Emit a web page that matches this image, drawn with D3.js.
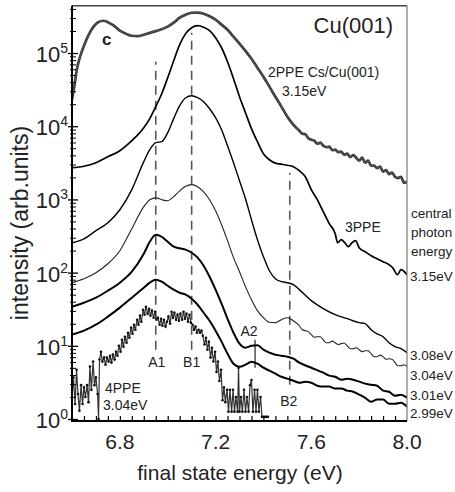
<!DOCTYPE html>
<html><head><meta charset="utf-8">
<script src="https://cdn.jsdelivr.net/npm/d3@7"></script>
<style>body{margin:0;background:#fff}svg{display:block;font-family:"Liberation Sans",Arial,sans-serif}</style>
</head><body><svg id="chart" width="455" height="492"></svg>
<script>
// ---------- data ----------
const xTickValues = [6.8, 7.2, 7.6, 8.0];
const xTickLabels = ["6.8", "7.2", "7.6", "8.0"];
const yTickExponents = [0, 1, 2, 3, 4, 5];

// 2PPE Cs/Cu(001) 3.15 eV  (curve "c")
const energyCs = [6.6,6.61,6.62,6.635,6.65,6.67,6.69,6.71,6.73,6.75,6.775,6.8,6.825,6.85,6.875,6.9,6.95,7.0,7.025,7.05,7.075,7.1,7.125,7.15,7.175,7.2,7.225,7.25,7.275,7.3,7.325,7.35,7.375,7.4,7.425,7.45,7.475,7.5,7.525,7.55,7.5625,7.575,7.5875,7.6,7.6125,7.625,7.6375,7.65,7.6625,7.675,7.6875,7.7,7.7125,7.725,7.7375,7.75,7.7625,7.775,7.7875,7.8,7.8125,7.825,7.8375,7.85,7.8625,7.875,7.8875,7.9,7.9125,7.925,7.9375,7.95,7.9625,7.975,7.9875,8.0];
const valuesCs = [2.30e4,3.57e4,5.92e4,9.18e4,1.26e5,1.78e5,2.29e5,2.64e5,2.76e5,2.64e5,2.36e5,2.02e5,1.84e5,1.72e5,1.70e5,1.78e5,1.99e5,2.29e5,2.60e5,3.04e5,3.34e5,3.55e5,3.57e5,3.44e5,3.18e5,2.85e5,2.44e5,2.08e5,1.67e5,1.34e5,1.07e5,8.36e4,6.30e4,4.74e4,3.47e4,2.53e4,1.85e4,1.35e4,1.05e4,8.68e3,7.90e3,7.78e3,6.86e3,6.55e3,6.34e3,5.77e3,5.96e3,5.42e3,5.17e3,5.25e3,4.70e3,4.78e3,4.42e3,4.49e3,4.08e3,4.21e3,3.78e3,4.02e3,3.72e3,3.38e3,3.72e3,3.17e3,3.38e3,2.89e3,2.89e3,2.67e3,2.80e3,2.39e3,2.51e3,2.21e3,2.32e3,2.04e3,1.95e3,2.04e3,1.69e3,1.75e3];

// 3PPE, 3.15 eV
const energy315 = [6.6,6.65,6.7,6.75,6.8,6.85,6.9,6.925,6.95,6.975,7.0,7.025,7.05,7.075,7.1,7.125,7.15,7.175,7.2,7.225,7.25,7.275,7.3,7.325,7.35,7.375,7.4,7.425,7.45,7.475,7.5,7.525,7.55,7.575,7.6,7.625,7.65,7.675,7.7,7.71,7.725,7.74,7.755,7.77,7.785,7.8,7.825,7.85,7.875,7.9,7.925,7.94,7.96,7.975,8.0];
const values315 = [2.71e3,2.84e3,3.17e3,3.83e3,4.63e3,6.34e3,9.55e3,1.27e4,1.85e4,2.78e4,4.60e4,7.85e4,1.30e5,1.84e5,2.22e5,2.36e5,2.25e5,2.02e5,1.62e5,1.18e5,7.60e4,4.46e4,2.53e4,1.53e4,9.25e3,6.14e3,4.21e3,3.48e3,3.13e3,3.03e3,2.93e3,2.80e3,2.47e3,2.04e3,1.36e3,991,679,467,340,256,282,256,226,256,273,219,193,170,155,141,128,117,93.6,110,93.6];

// 3PPE, 3.08 eV
const energy308 = [6.6,6.65,6.7,6.75,6.8,6.85,6.9,6.925,6.95,6.975,7.0,7.025,7.05,7.075,7.1,7.125,7.15,7.175,7.2,7.225,7.25,7.275,7.3,7.325,7.35,7.375,7.4,7.425,7.45,7.475,7.5,7.525,7.55,7.6,7.65,7.7,7.75,7.8,7.825,7.85,7.875,7.9,7.925,7.95,7.975,8.0];
const values308 = [256,290,374,481,723,1.36e3,3.28e3,4.78e3,5.96e3,6.15e3,8.17e3,1.27e4,1.91e4,2.45e4,2.61e4,2.45e4,2.16e4,1.73e4,1.31e4,8.95e3,5.42e3,3.17e3,1.80e3,1.02e3,527,281,165,106,82.6,75.2,72.8,68.4,58.5,41.4,32.2,26.6,23.5,20.7,20.1,16.6,14.6,13.3,11.0,9.72,9.14,8.05];

// 3PPE, 3.04 eV
const energy304 = [6.6,6.65,6.7,6.75,6.8,6.85,6.9,6.925,6.95,6.975,7.0,7.025,7.05,7.075,7.1,7.125,7.15,7.175,7.2,7.225,7.25,7.275,7.3,7.325,7.35,7.375,7.4,7.425,7.45,7.475,7.5,7.525,7.55,7.5625,7.575,7.5875,7.6,7.6125,7.625,7.6375,7.65,7.6625,7.675,7.6875,7.7,7.7125,7.725,7.7375,7.75,7.7625,7.775,7.7875,7.8,7.8125,7.825,7.8375,7.85,7.8625,7.875,7.8875,7.9,7.9125,7.925,7.9375,7.95,7.9625,7.975,7.9875,8.0];
const values304 = [72.8,82.6,99.8,132,199,398,796,991,1.05e3,991,960,1.09e3,1.31e3,1.51e3,1.59e3,1.49e3,1.27e3,991,701,451,273,160,103,64.3,42.7,30.2,24.2,21.0,20.7,22.7,24.2,22.0,18.8,16.6,16.1,15.6,14.2,13.1,13.3,13.3,12.1,11.0,11.0,11.6,11.0,10.4,10.7,10.9,10.0,9.12,9.12,9.42,8.85,8.30,8.57,8.57,7.80,7.10,7.10,7.45,7.10,6.56,6.67,6.56,5.88,5.35,5.35,5.52,5.18];

// 3PPE, 3.01 eV
const energy301 = [6.6,6.65,6.7,6.75,6.8,6.85,6.9,6.925,6.95,6.975,7.0,7.025,7.05,7.075,7.1,7.125,7.15,7.175,7.2,7.225,7.25,7.275,7.3,7.325,7.35,7.375,7.4,7.425,7.45,7.475,7.5,7.525,7.55,7.6,7.65,7.675,7.7,7.725,7.75,7.775,7.8,7.825,7.85,7.875,7.9,7.925,7.95,7.975,8.0];
const values301 = [34.2,38.8,45.4,56.6,72.8,103,181,264,330,309,264,226,215,206,187,160,124,87.9,58.4,37.6,23.4,15.1,10.7,9.42,10.0,10.2,8.85,8.05,7.56,7.33,7.10,6.67,5.88,5.02,4.29,3.91,3.78,3.44,3.56,3.44,3.24,3.04,2.94,2.85,2.44,2.36,2.08,2.15,1.95];

// 3PPE, 2.99 eV
const energy299 = [6.6,6.65,6.7,6.75,6.8,6.85,6.9,6.925,6.95,6.975,7.0,7.025,7.05,7.075,7.1,7.125,7.15,7.175,7.2,7.225,7.25,7.275,7.3,7.325,7.35,7.375,7.4,7.425,7.45,7.475,7.5,7.525,7.55,7.575,7.6,7.625,7.65,7.675,7.7,7.725,7.75,7.775,7.8,7.825,7.85,7.875,7.9,7.925,7.95,7.975,8.0];
const values299 = [14.2,16.1,19.4,25.0,33.2,45.4,62.2,72.8,80.0,75.2,66.2,58.5,53.1,49.9,44.0,36.4,28.3,22.0,16.1,11.4,7.80,5.69,5.18,5.52,6.07,5.69,5.02,4.57,4.16,3.78,3.56,3.33,3.13,3.24,3.13,2.85,2.77,2.77,2.60,2.60,2.44,2.36,2.15,1.95,1.72,1.84,1.84,1.62,1.62,1.67,1.47];

// 4PPE, 3.04 eV (counts)
const energy4PPE = [6.600,6.606,6.613,6.619,6.625,6.631,6.638,6.644,6.650,6.656,6.663,6.669,6.675,6.681,6.688,6.694,6.700,6.707,6.711,6.715,6.721,6.727,6.734,6.740,6.746,6.753,6.759,6.765,6.771,6.778,6.784,6.790,6.796,6.803,6.809,6.815,6.821,6.828,6.834,6.840,6.847,6.853,6.859,6.865,6.872,6.878,6.884,6.890,6.897,6.903,6.909,6.916,6.922,6.928,6.934,6.941,6.947,6.953,6.959,6.966,6.972,6.978,6.984,6.991,6.997,7.003,7.010,7.016,7.022,7.028,7.035,7.041,7.047,7.053,7.060,7.066,7.072,7.078,7.085,7.091,7.097,7.104,7.110,7.116,7.122,7.129,7.135,7.141,7.147,7.154,7.160,7.166,7.172,7.179,7.185,7.191,7.198,7.204,7.210,7.216,7.223,7.229,7.235,7.241,7.248,7.254,7.260,7.267,7.273,7.279,7.285,7.292,7.296,7.300,7.306,7.312,7.319,7.325,7.331,7.338,7.344,7.350,7.356,7.363,7.369,7.375,7.381,7.388,7.394,7.400,7.407,7.413,7.419];
const values4PPE = [2.0,3.7,1.6,4.7,2.2,1.3,2.9,1.6,2.7,2.0,2.9,1.7,5.2,2.5,6.1,2.9,3.7,2.2,1.0,6.5,8.3,6.1,6.9,5.5,6.9,6.1,7.3,5.9,7.6,6.5,8.3,7.3,10.0,8.3,12.1,9.7,13.3,11.0,15.1,12.9,17.7,14.6,19.4,16.6,22.7,19.4,25.8,21.3,31.1,26.6,34.2,27.5,32.1,25.8,30.2,24.2,29.2,22.7,24.2,19.4,23.4,18.8,22.7,18.3,21.3,25.0,20.1,29.2,24.2,28.3,22.7,26.6,22.0,27.5,22.7,29.2,23.4,27.5,21.3,26.6,20.7,19.4,16.6,18.3,15.1,16.6,15.1,16.1,13.7,10.4,12.9,8.85,11.4,6.9,9.4,6.1,8.3,4.4,6.1,3.3,4.7,1.8,2.7,1.7,2.5,1.26,2.5,1.26,2.5,1.26,2.0,1.26,5.0,1.26,2.0,1.26,2.5,1.26,2.0,1.26,2.9,3.4,1.26,2.5,1.26,2.5,1.26,2.0,1.07,1.07,1.07,1.07,1.07];

// peak markers
const peakNames = ["A1", "B1", "B2", "A2"];
const peakEnergies = [6.95, 7.1, 7.51, 7.365];
const peakLow = [8.8, 8.8, 2.94, 5.0];
const peakHigh = [7.6e4, 1.89e5, 2.32e3, 12.1];

const photonLabels = ["3.15eV", "3.08eV", "3.04eV", "3.01eV", "2.99eV"];

// ---------- drawing ----------
const svg = d3.select("#chart");
const L = 72, R = 407, T = 5.7, B = 421;
const x = d3.scaleLinear().domain([6.6, 8.0]).range([L, R]);
const y = d3.scaleLog().domain([0.939, 4.43e5]).range([B, T]);

svg.append("defs").append("clipPath").attr("id", "clip")
  .append("rect").attr("x", L).attr("y", T).attr("width", R - L).attr("height", B - T);
const plot = svg.append("g").attr("clip-path", "url(#clip)");

const zip = (a, b) => a.map((v, i) => [v, b[i]]);
const smooth = d3.line().x(d => x(d[0])).y(d => y(d[1])).curve(d3.curveMonotoneX);
const straight = d3.line().x(d => x(d[0])).y(d => y(d[1]));

// dashed peak lines
peakNames.forEach((n, i) => {
  plot.append("line")
    .attr("x1", x(peakEnergies[i])).attr("x2", x(peakEnergies[i]))
    .attr("y1", y(peakLow[i])).attr("y2", y(peakHigh[i]))
    .attr("stroke", n === "A2" ? "#222" : "#555")
    .attr("stroke-width", n === "A2" ? 1.2 : 1.6)
    .attr("stroke-dasharray", n === "A2" ? null : "9,6");
});

// Cs curve: textured dark grey
plot.append("path").attr("d", smooth(zip(energyCs, valuesCs)))
  .attr("fill", "none").attr("stroke", "#3a3a3a").attr("stroke-width", 2.7);
plot.append("path").attr("d", smooth(zip(energyCs, valuesCs)))
  .attr("fill", "none").attr("stroke", "#8a8a8a").attr("stroke-width", 0.7).attr("stroke-dasharray", "1,1.3");

const styles = [
  [energy315, values315, "#000", 1.7],
  [energy308, values308, "#000", 1.4],
  [energy304, values304, "#222", 1.1],
  [energy301, values301, "#000", 2.0],
  [energy299, values299, "#000", 2.0]
];
styles.forEach(s => {
  plot.append("path").attr("d", smooth(zip(s[0], s[1])))
    .attr("fill", "none").attr("stroke", s[2]).attr("stroke-width", s[3]).attr("stroke-linejoin", "round");
});

// 4PPE noisy
const d4 = zip(energy4PPE, values4PPE);
plot.append("path").attr("d", straight(d4)).attr("fill", "none").attr("stroke", "#333").attr("stroke-width", 1.2);
plot.selectAll("circle.p4").data(d4).enter().append("circle")
  .attr("cx", d => x(d[0])).attr("cy", d => y(d[1])).attr("r", 1.3).attr("fill", "#111");

// ---------- axes ----------
const minorX = d3.range(6.65, 8.0, 0.05);
const xMinor = svg.append("g").attr("transform", `translate(0,${B})`)
  .call(d3.axisBottom(x).tickValues(minorX).tickSize(-5).tickFormat(""));
xMinor.select(".domain").remove();
xMinor.selectAll("line").attr("stroke", "#000").attr("stroke-width", 1.2);

xTickValues.forEach((v, i) => {
  svg.append("text").attr("x", x(v)).attr("y", 449).attr("text-anchor", "middle")
    .attr("font-size", 21).attr("fill", "#222").text(xTickLabels[i]);
});

// y ticks
const majorY = yTickExponents.map(e => Math.pow(10, e));
const minorY = [];
yTickExponents.forEach(e => { for (let m = 2; m <= 9; m++) { const v = m * Math.pow(10, e); if (v < 4.43e5) minorY.push(v); } });
const yMinor = svg.append("g").attr("transform", `translate(${L},0)`)
  .call(d3.axisRight(y).tickValues(minorY).tickSize(4).tickFormat(""));
yMinor.select(".domain").remove();
yMinor.selectAll("line").attr("stroke", "#000").attr("stroke-width", 1).attr("x1", -2);
const yMajor = svg.append("g").attr("transform", `translate(${L},0)`)
  .call(d3.axisRight(y).tickValues(majorY).tickSize(6).tickFormat(""));
yMajor.select(".domain").remove();
yMajor.selectAll("line").attr("stroke", "#000").attr("stroke-width", 1.3).attr("x1", -4);

yTickExponents.forEach(e => {
  const t = svg.append("text").attr("x", 68).attr("y", y(Math.pow(10, e)) + 9)
    .attr("text-anchor", "end").attr("font-size", 22).attr("fill", "#222");
  t.append("tspan").text("10");
  t.append("tspan").attr("dy", -9).attr("font-size", 14).text(String(e));
});

// frame
svg.append("line").attr("x1", L).attr("x2", R).attr("y1", T).attr("y2", T).attr("stroke", "#444").attr("stroke-width", 1.4);
svg.append("line").attr("x1", R).attr("x2", R).attr("y1", T).attr("y2", B).attr("stroke", "#777").attr("stroke-width", 1.2);
svg.append("line").attr("x1", L).attr("x2", L).attr("y1", T).attr("y2", B + 1).attr("stroke", "#000").attr("stroke-width", 2);
svg.append("line").attr("x1", L - 1).attr("x2", R).attr("y1", B).attr("y2", B).attr("stroke", "#000").attr("stroke-width", 2);

// titles
svg.append("text").attr("x", 240).attr("y", 480).attr("text-anchor", "middle")
  .attr("font-size", 21).attr("fill", "#222").text("final state energy (eV)");
svg.append("text").attr("transform", "translate(28,223) rotate(-90)").attr("text-anchor", "middle")
  .attr("font-size", 23).attr("fill", "#222").text("intensity (arb.units)");

// annotations
const ann = (tx, ty, s, fs, anchor, weight) => svg.append("text").attr("x", tx).attr("y", ty)
  .attr("font-size", fs).attr("text-anchor", anchor || "start").attr("font-weight", weight || "normal")
  .attr("fill", "#222").text(s);
ann(393, 33, "Cu(001)", 22, "end");
ann(102, 45, "c", 17, "start", "bold");
ann(268, 77, "2PPE Cs/Cu(001)", 14);
ann(282, 96, "3.15eV", 14);
ann(345, 232, "3PPE", 14);
ann(411, 218, "central", 13.5);
ann(411, 237, "photon", 13.5);
ann(411, 256, "energy", 13.5);
const photonY = [281, 360, 380, 400, 418];
photonLabels.forEach((s, i) => ann(410, photonY[i], s, 13.5));
ann(105, 393, "4PPE", 14);
ann(103, 410, "3.04eV", 14);
const peakLabelY = [367, 367, 406, 336];
const peakLabelDx = [1, 0, -1, -6];
peakNames.forEach((n, i) => ann(x(peakEnergies[i]) + peakLabelDx[i], peakLabelY[i], n, 14, "middle"));
</script></body></html>
